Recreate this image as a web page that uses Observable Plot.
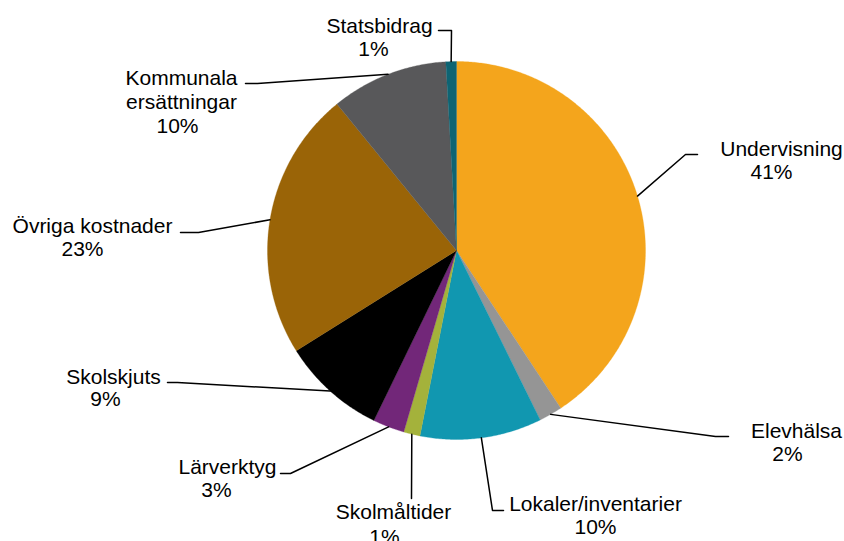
<!DOCTYPE html>
<html><head><meta charset="utf-8">
<script src="https://cdn.jsdelivr.net/npm/d3@7"></script>
<script src="https://cdn.jsdelivr.net/npm/@observablehq/plot@0.6"></script>
<style>body{margin:0;background:#fff} svg{display:block}</style>
</head><body><div id="chart"></div>
<script>
// ---- data ----
const categories = ["Undervisning","Elevhälsa","Lokaler/inventarier","Skolmåltider","Lärverktyg","Skolskjuts","Övriga kostnader","Kommunala ersättningar","Statsbidrag"];
const shares = [40.7, 2.0, 10.4, 1.4, 2.7, 8.9, 23.0, 10.0, 0.9];
const nameLines = ["Undervisning","Elevhälsa","Lokaler/inventarier","Skolmåltider","Lärverktyg","Skolskjuts","Övriga kostnader","Kommunala\nersättningar","Statsbidrag"];
const colors = ["#F4A51C","#959595","#1197B0","#A4B23B","#722779","#000000","#9A6407","#58585A","#0E6473"];

// ---- layout (offsets from pie centre, in plot units; y downward) ----
const R = 189;
const namePos = [[325,-95],[340,187],[139,260],[-63,268],[-229,223],[-343,133],[-364,-18],[-275,-142],[-77,-218]];
const pctPos  = [[315,-72],[331,210],[139,283],[-72,293],[-240,246],[-351,155],[-374,5],[-279,-118],[-83,-195]];
const elbowPos = [[229,-96],[259,186],[36,260],[-45,248],[-166,223],[-279,132],[-258,-18],[-199,-167],[-5,-220]];
const endPos   = [[241,-96],[272,186],[47,260],[-45,248],[-176,223],[-289,132],[-276,-18],[-211,-167],[-18,-220]];

const arcs = d3.pie().sort(null).value(d => d)(shares);
const pt = (a, r) => ({x: r * Math.sin(a), y: -r * Math.cos(a)});

const slicePts = [];
arcs.forEach((a, i) => {
  const key = categories[i];
  slicePts.push({key, x: 0, y: 0});
  const n = Math.max(2, Math.ceil((a.endAngle - a.startAngle) / (Math.PI / 360)));
  for (let k = 0; k <= n; k++) {
    const t = a.startAngle + (a.endAngle - a.startAngle) * k / n;
    slicePts.push({key, ...pt(t, R)});
  }
  slicePts.push({key, x: 0, y: 0});
});

const leaderPts = [];
arcs.forEach((a, i) => {
  const key = categories[i];
  const mid = (a.startAngle + a.endAngle) / 2;
  leaderPts.push({key, ...pt(mid, R)});
  leaderPts.push({key, x: elbowPos[i][0], y: elbowPos[i][1]});
  leaderPts.push({key, x: endPos[i][0], y: endPos[i][1]});
});

const names = categories.map((c, i) => ({text: nameLines[i], x: namePos[i][0], y: namePos[i][1]}));
const pcts = categories.map((c, i) => ({text: Math.round(shares[i]) + "%", x: pctPos[i][0], y: pctPos[i][1]}));

const font = "'Liberation Sans', Arial, sans-serif";
const chart = Plot.plot({
  width: 844, height: 541, margin: 0,
  style: {background: "#fff", overflow: "visible"},
  x: {domain: [-456, 388], range: [0, 844], axis: null},
  y: {domain: [-250, 291], range: [0, 541], axis: null},
  color: {domain: categories, range: colors},
  marks: [
    Plot.line(slicePts, {x: "x", y: "y", z: "key", fill: "key", stroke: "key", strokeWidth: 0.3, curve: "linear"}),
    Plot.line(leaderPts, {x: "x", y: "y", z: "key", stroke: "#000", strokeWidth: 1.5, curve: "linear"}),
    Plot.text(names, {x: "x", y: "y", text: "text", lineAnchor: "bottom", lineHeight: 1.12, fontSize: 21, fontFamily: font, fill: "#000"}),
    Plot.text(pcts, {x: "x", y: "y", text: "text", lineAnchor: "bottom", fontSize: 21, fontFamily: font, fill: "#000"})
  ]
});
document.getElementById("chart").append(chart);
</script>
</body></html>
